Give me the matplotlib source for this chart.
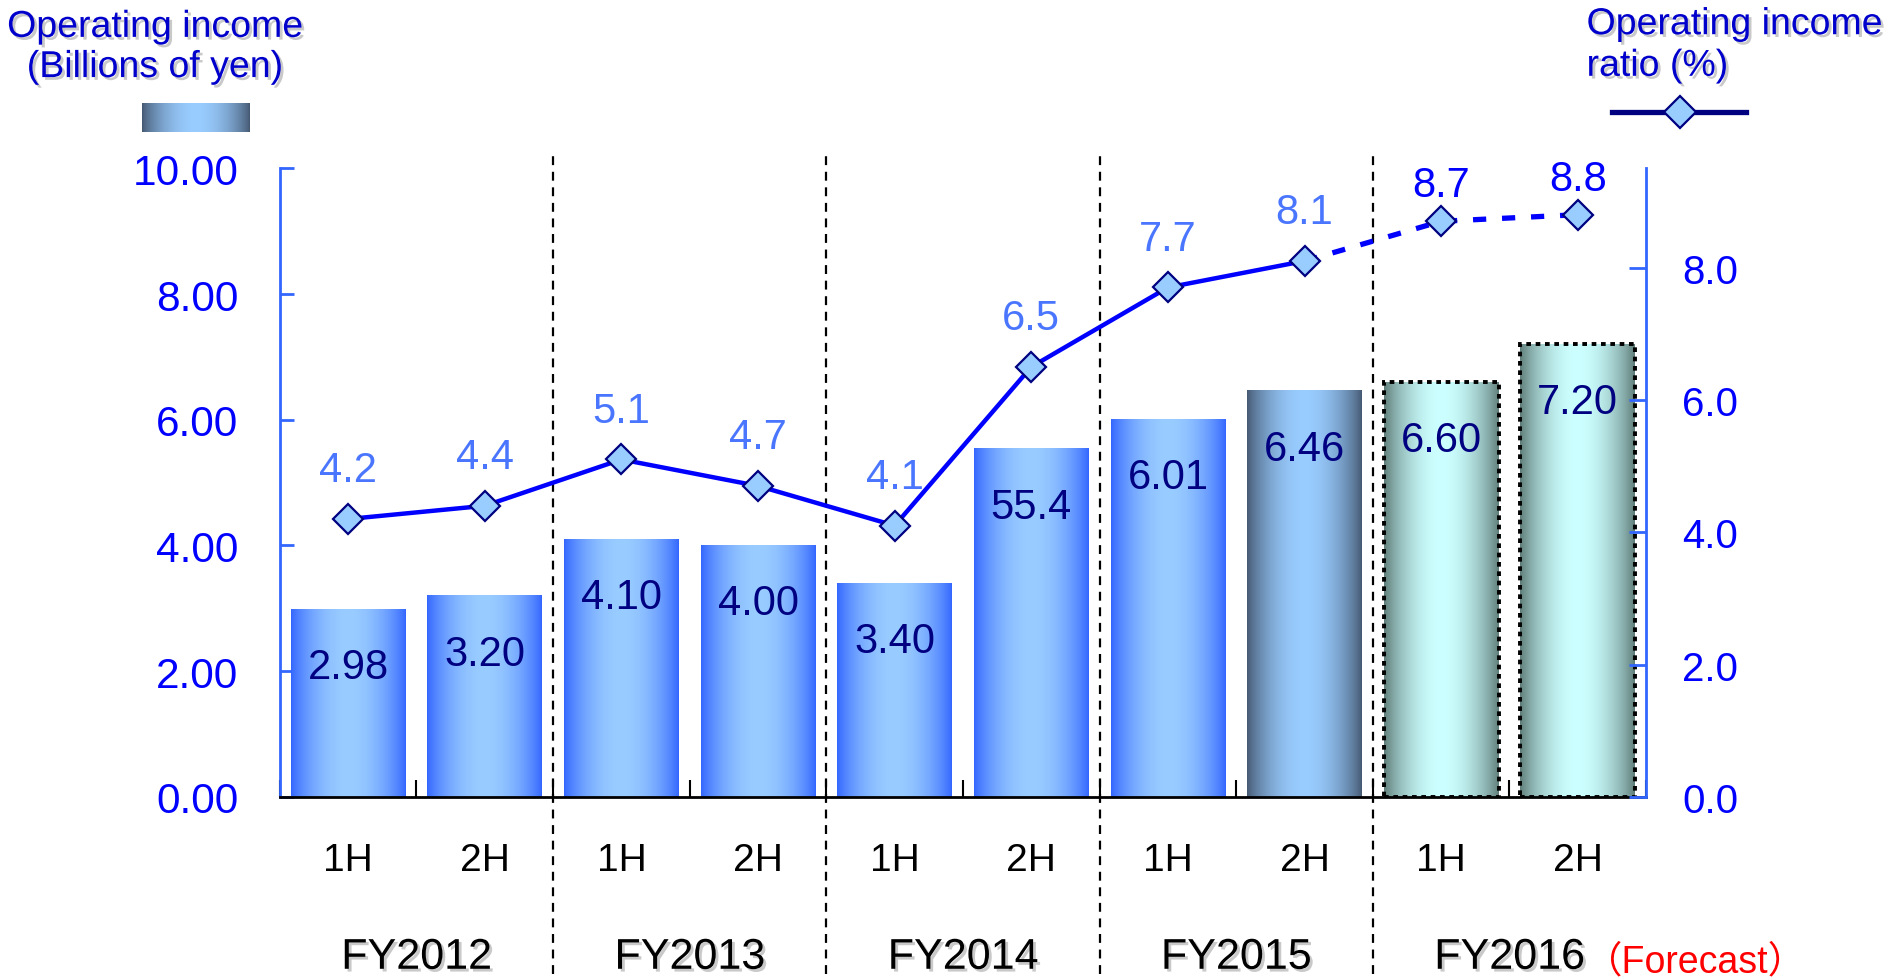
import numpy as np
import matplotlib.pyplot as plt
import matplotlib.colors as mcolors
import matplotlib.patheffects as pe
import matplotlib.transforms as mtransforms
from matplotlib.lines import Line2D

plt.rcParams['font.family'] = ['Liberation Sans', 'Noto Sans CJK JP', 'DejaVu Sans']

# data
halves = ['1H', '2H'] * 5
years = ['FY2012', 'FY2013', 'FY2014', 'FY2015', 'FY2016']
income = [2.98, 3.20, 4.10, 4.00, 3.40, 5.54, 6.01, 6.46, 6.60, 7.20]
income_labels = ['2.98', '3.20', '4.10', '4.00', '3.40', '55.4', '6.01', '6.46', '6.60', '7.20']
ratio = [4.2, 4.4, 5.1, 4.7, 4.1, 6.5, 7.7, 8.1, 8.7, 8.8]
n_actual = 8  # last two halves are forecast

bar_style = ['blue'] * 7 + ['slate'] + ['teal'] * 2
grad_cols = {'blue': ('#3366ff', '#99ccff'),
             'slate': ('#465a73', '#99ccff'),
             'teal': ('#5e7c78', '#ccffff')}


def grad(edge, mid, n=128):
    t = np.linspace(0, 1, n)
    p = np.sin(np.pi * t)[:, None] ** 0.8
    e = np.array(mcolors.to_rgb(edge))
    m = np.array(mcolors.to_rgb(mid))
    return (e + (m - e) * p)[None, :, :]


shadow = [pe.withSimplePatchShadow(offset=(2, -2), shadow_rgbFace='#888888', alpha=0.45)]

fig = plt.figure(figsize=(18.91, 9.79), dpi=100)
ax = fig.add_axes([0.148, 0.185, 0.7225, 0.642])
x = np.arange(len(income))
w = 0.84

# gradient bars
for i, v in enumerate(income):
    edge, mid = grad_cols[bar_style[i]]
    ax.imshow(grad(edge, mid), extent=(i - w / 2, i + w / 2, 0, v), aspect='auto',
              interpolation='bilinear', zorder=2)
    if i >= n_actual:
        ax.bar(i, v, w, fill=False, edgecolor='black', linestyle=(0, (1.2, 1.2)), lw=2.8, zorder=3)
    ax.text(i, v - 0.92, income_labels[i], ha='center', va='center', fontsize=30,
            color='#000080', zorder=4)

trans = mtransforms.blended_transform_factory(ax.transData, ax.transAxes)
for b in [1.5, 3.5, 5.5, 7.5]:
    ax.plot([b, b], [-0.282, 1.025], transform=trans, color='black', ls=(0, (4, 3)),
            lw=1.6, clip_on=False, zorder=1)

for i, h in enumerate(halves):
    ax.text(i, -0.10, h, transform=trans, ha='center', va='center', fontsize=28, color='black')
fy_texts = []
for k, yname in enumerate(years):
    t = ax.text(2 * k + 0.5, -0.256, yname, transform=trans, ha='center', va='center',
                fontsize=31, color='black', path_effects=shadow)
    fy_texts.append(t)
ax.annotate('（Forecast）', xy=(1, 0.42), xycoords=fy_texts[-1], ha='left', va='center',
            fontsize=27, color='red')

ax.set_xlim(-0.5, 9.5)
ax.set_ylim(0, 10)
ax.set_yticks(np.arange(0, 11, 2))
ax.yaxis.set_major_formatter('{x:.2f}')
ax.tick_params(axis='y', direction='in', length=10, width=2, color='#3366ff',
               labelcolor='#0000ff', labelsize=30.5, pad=30)
ax.set_xticks(np.arange(-0.5, 10, 1))
ax.set_xticklabels([])
ax.tick_params(axis='x', direction='in', length=12, width=1.5, color='black')
ax.spines['top'].set_visible(False)
ax.spines['right'].set_visible(False)
ax.spines['left'].set_color('#3366ff')
ax.spines['left'].set_linewidth(2)
ax.spines['bottom'].set_color('black')
ax.spines['bottom'].set_linewidth(2)

# ratio line
ax2 = ax.twinx()
ax2.plot(x[:n_actual], ratio[:n_actual], color='#0000ff', lw=3.2, zorder=3)
ax2.plot(x[n_actual - 1:], ratio[n_actual - 1:], color='#0000ff', lw=3.8, ls=(0, (2.5, 3)), zorder=3)
ax2.plot(x, ratio, ls='none', marker='D', ms=15, mfc='#99ccff', mec='#000080', mew=1.6, zorder=4)
for i, r in enumerate(ratio):
    fc = '#4a76ff' if i < n_actual else '#0000ff'
    off = 35 if i < n_actual else 26
    ax2.annotate(f'{r:.1f}', (i, r), xytext=(0, off), textcoords='offset points',
                 ha='center', va='center', fontsize=30, color=fc)
ax2.set_ylim(0, 9.5)
ax2.set_yticks([0, 2, 4, 6, 8])
ax2.yaxis.set_major_formatter('{x:.1f}')
ax2.tick_params(axis='y', direction='in', length=12, width=2, color='#3366ff',
                labelcolor='#0000ff', labelsize=29, pad=26)
for s in ['top', 'left', 'bottom']:
    ax2.spines[s].set_visible(False)
ax2.spines['right'].set_color('#3366ff')
ax2.spines['right'].set_linewidth(2)

# legend headers
fig.text(0.082, 0.951, 'Operating income\n(Billions of yen)', ha='center', va='center',
         fontsize=27, color='#0000cc', linespacing=1.15, path_effects=shadow)
sax = fig.add_axes([0.0751, 0.864, 0.0571, 0.0296])
sax.imshow(grad('#465a73', '#99ccff'), aspect='auto', extent=(0, 1, 0, 1))
sax.axis('off')

fig.text(0.839, 0.953, 'Operating income\nratio (%)', ha='left', va='center',
         fontsize=27, color='#0000cc', linespacing=1.2, path_effects=shadow)
fig.add_artist(Line2D([0.8525, 0.9233], [0.8846, 0.8846], transform=fig.transFigure,
                      color='#000080', lw=3.8))
fig.add_artist(Line2D([0.8884], [0.8846], transform=fig.transFigure, marker='D', ms=16,
                      mfc='#99ccff', mec='#000080', mew=1.6))

fig.savefig('out.png', dpi=100)
